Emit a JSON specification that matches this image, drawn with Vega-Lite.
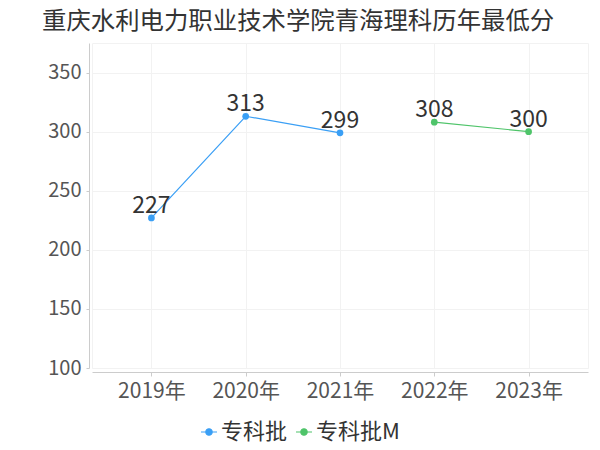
{
  "$schema": "https://vega.github.io/schema/vega-lite/v6.json",
  "width": 496,
  "height": 325,
  "autosize": {"type": "none"},
  "padding": {"left": 92, "top": 43, "right": 12, "bottom": 82},
  "background": "white",
  "title": {
    "text": "重庆水利电力职业技术学院青海理科历年最低分",
    "anchor": "start",
    "frame": "group",
    "dx": -50,
    "offset": 9,
    "fontSize": 24.4,
    "fontWeight": "normal",
    "color": "#333333",
    "font": "Noto Sans CJK SC"
  },
  "config": {
    "font": "Noto Sans CJK SC",
    "view": {"stroke": "#f2f2f2", "strokeWidth": 1},
    "axis": {"gridColor": "#f2f2f2", "domainColor": "#cccccc", "tickColor": "#cccccc", "labelColor": "#555555"}
  },
  "data": {
    "values": [
      {"year": "2019年", "score": 227, "batch": "专科批"},
      {"year": "2020年", "score": 313, "batch": "专科批"},
      {"year": "2021年", "score": 299, "batch": "专科批"},
      {"year": "2022年", "score": 308, "batch": "专科批M"},
      {"year": "2023年", "score": 300, "batch": "专科批M"}
    ]
  },
  "encoding": {
    "x": {
      "field": "year",
      "type": "ordinal",
      "scale": {"type": "point", "padding": 0.63},
      "axis": {
        "title": null,
        "labelAngle": 0,
        "labelFontSize": 21,
        "offset": 4,
        "tickSize": 4,
        "labelPadding": 4,
        "grid": true
      }
    },
    "y": {
      "field": "score",
      "type": "quantitative",
      "scale": {"domain": [100, 375], "nice": false, "zero": false},
      "axis": {
        "title": null,
        "values": [100, 150, 200, 250, 300, 350],
        "labelFontSize": 20,
        "offset": 3,
        "tickSize": 3,
        "labelPadding": 5,
        "grid": true
      }
    },
    "color": {
      "field": "batch",
      "type": "nominal",
      "scale": {"domain": ["专科批", "专科批M"], "range": ["#3a9ff5", "#4fc46a"]},
      "legend": {
        "title": null,
        "orient": "none",
        "direction": "horizontal",
        "legendX": 106,
        "legendY": 378,
        "labelFontSize": 22,
        "labelColor": "#333333",
        "symbolType": "M-1,0L1,0M-0.4,0a0.4,0.4 0 1,0 0.8,0a0.4,0.4 0 1,0 -0.8,0",
        "symbolSize": 256,
        "symbolStrokeWidth": 1.2,
        "labelOffset": 1,
        "columnPadding": 5,
        "encode": {
          "symbols": {"update": {"fill": {"scale": "color", "field": "value"}, "stroke": {"scale": "color", "field": "value"}}}
        }
      }
    }
  },
  "layer": [
    {"mark": {"type": "line", "strokeWidth": 1.2}},
    {"mark": {"type": "point", "filled": true, "size": 45, "opacity": 1}},
    {
      "mark": {"type": "text", "dy": -5, "baseline": "alphabetic", "fontSize": 23, "color": "#333333"},
      "encoding": {"text": {"field": "score", "type": "quantitative"}, "color": {"value": "#333333"}}
    }
  ]
}
